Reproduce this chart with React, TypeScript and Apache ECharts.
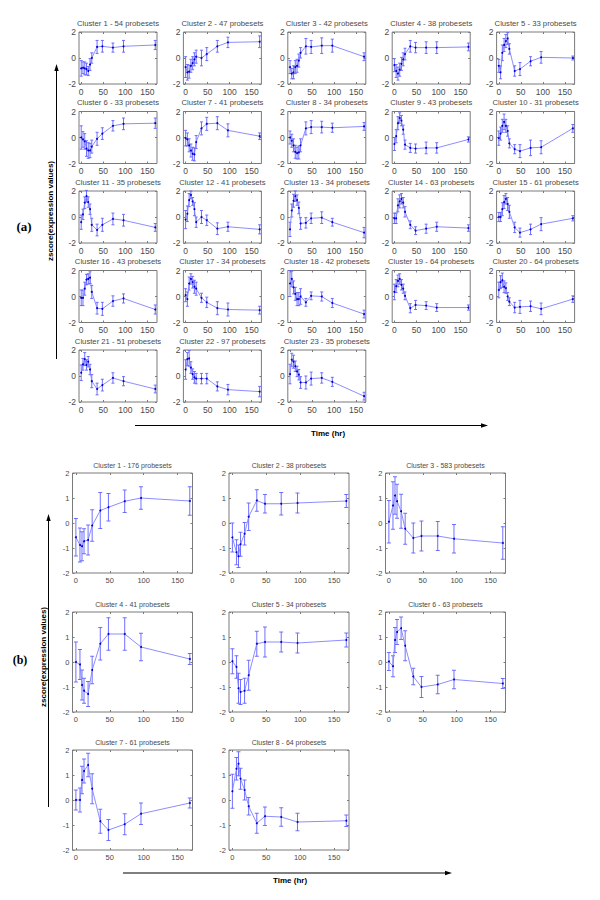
import React, { useEffect, useRef } from "react";
import * as echarts from "echarts";

// ---------- data ----------
const TIMES_A = [0, 4, 8, 12, 16, 20, 24, 36, 48, 72, 96, 168];
const TIMES_B = [0, 6, 9, 12, 18, 24, 36, 48, 72, 96, 168];
const X_TICKS = [0, 50, 100, 150];

const TITLES_A = [
  "Cluster 1 - 54 probesets", "Cluster 2 - 47 probesets", "Cluster 3 - 42 probesets",
  "Cluster 4 - 38 probesets", "Cluster 5 - 33 probesets", "Cluster 6 - 33 probesets",
  "Cluster 7 - 41 probesets", "Cluster 8 - 34 probesets", "Cluster 9 - 43 probesets",
  "Cluster 10 - 31 probesets", "Cluster 11 - 35 probesets", "Cluster 12 - 41 probesets",
  "Cluster 13 - 34 probesets", "Cluster 14 - 63 probesets", "Cluster 15 - 61 probesets",
  "Cluster 16 - 43 probesets", "Cluster 17 - 34 probesets", "Cluster 18 - 42 probesets",
  "Cluster 19 - 64 probesets", "Cluster 20 - 64 probesets", "Cluster 21 - 51 probesets",
  "Cluster 22 - 97 probesets", "Cluster 23 - 35 probesets",
];
const TITLES_B = [
  "Cluster 1 - 176 probesets", "Cluster 2 - 38 probesets", "Cluster 3 - 583 probesets",
  "Cluster 4 - 41 probesets", "Cluster 5 - 34 probesets", "Cluster 6 - 63 probesets",
  "Cluster 7 - 61 probesets", "Cluster 8 - 64 probesets",
];

// panel (a) means and error half-widths
const A01 = [-0.8, -0.75, -0.8, -0.85, -1.0, -0.5, 0.0, 0.85, 0.9, 0.8, 0.9, 1.0];
const A01_E = [0.6, 0.45, 0.5, 0.45, 0.35, 0.45, 0.4, 0.5, 0.45, 0.35, 0.45, 0.35];
const A02 = [-0.7, -1.1, -1.05, -0.6, -0.4, -0.1, 0.1, 0.0, 0.3, 0.9, 1.2, 1.25];
const A02_E = [0.8, 0.6, 0.5, 0.5, 0.5, 0.5, 0.5, 0.6, 0.5, 0.45, 0.4, 0.45];
const A03 = [-0.7, -1.2, -1.1, -0.7, -0.6, -0.2, 0.4, 0.9, 0.85, 0.95, 0.95, 0.1];
const A03_E = [0.5, 0.4, 0.5, 0.5, 0.5, 0.5, 0.4, 0.6, 0.5, 0.6, 0.5, 0.3];
const A04 = [-0.55, -1.0, -1.2, -0.9, -0.45, -0.1, 0.3, 0.9, 0.8, 0.8, 0.8, 0.85];
const A04_E = [0.5, 0.5, 0.5, 0.5, 0.5, 0.5, 0.45, 0.45, 0.4, 0.45, 0.45, 0.3];
const A05 = [-0.6, -1.1, 0.4, 1.0, 1.3, 1.5, 0.7, -1.0, -0.85, -0.25, 0.05, 0.0];
const A05_E = [0.5, 0.5, 0.6, 0.5, 0.5, 0.45, 0.4, 0.4, 0.5, 0.35, 0.45, 0.15];
const A06 = [0.0, -0.15, -0.3, -0.85, -1.0, -1.0, -0.7, -0.1, 0.3, 0.9, 1.05, 1.1];
const A06_E = [0.9, 0.6, 0.6, 0.6, 0.6, 0.55, 0.5, 0.5, 0.45, 0.4, 0.45, 0.4];
const A07 = [-0.05, -0.15, -0.6, -1.0, -1.25, -1.3, -0.35, 0.7, 1.05, 1.1, 0.55, 0.1];
const A07_E = [0.6, 0.5, 0.5, 0.5, 0.5, 0.5, 0.5, 0.5, 0.5, 0.5, 0.5, 0.25];
const A08 = [0.0, -0.25, -0.6, -1.1, -1.2, -1.15, -0.6, 0.7, 0.8, 0.8, 0.75, 0.85];
const A08_E = [0.5, 0.5, 0.5, 0.5, 0.45, 0.5, 0.5, 0.5, 0.5, 0.45, 0.35, 0.3];
const A09 = [-0.5, 0.1, 1.1, 1.5, 1.3, 0.6, -0.55, -0.8, -0.85, -0.8, -0.8, -0.15];
const A09_E = [0.5, 0.5, 0.5, 0.4, 0.4, 0.35, 0.35, 0.35, 0.35, 0.45, 0.4, 0.2];
const A10 = [-0.05, 0.3, 0.9, 1.2, 0.9, 0.5, -0.45, -0.9, -1.05, -0.8, -0.75, 0.7];
const A10_E = [0.55, 0.5, 0.5, 0.6, 0.5, 0.4, 0.35, 0.35, 0.5, 0.6, 0.5, 0.3];
const A11 = [-0.4, 0.2, 1.1, 1.6, 1.15, 0.6, -0.6, -1.0, -0.6, -0.15, -0.25, -0.8];
const A11_E = [0.55, 0.4, 0.45, 0.45, 0.4, 0.4, 0.5, 0.45, 0.5, 0.45, 0.45, 0.3];
const A12 = [-0.2, 0.25, 1.3, 1.7, 1.2, 0.6, -0.4, 0.0, -0.25, -0.9, -0.75, -0.95];
const A12_E = [0.7, 0.6, 0.5, 0.3, 0.3, 0.5, 0.4, 0.5, 0.4, 0.45, 0.35, 0.35];
const A13 = [-0.95, 0.5, 1.25, 1.6, 1.3, 0.7, -0.5, -0.45, -0.1, -0.05, -0.4, -1.2];
const A13_E = [0.55, 0.5, 0.5, 0.4, 0.4, 0.45, 0.45, 0.4, 0.4, 0.45, 0.3, 0.4];
const A14 = [-0.1, -0.1, 0.9, 1.2, 1.4, 1.1, 0.4, -0.6, -1.05, -0.9, -0.75, -0.85];
const A14_E = [0.4, 0.4, 0.5, 0.5, 0.4, 0.4, 0.4, 0.3, 0.3, 0.35, 0.35, 0.25];
const A15 = [0.0, 0.0, 0.6, 1.15, 1.4, 1.0, 0.4, -0.8, -1.2, -0.95, -0.55, -0.1];
const A15_E = [0.35, 0.35, 0.5, 0.5, 0.4, 0.5, 0.5, 0.4, 0.35, 0.4, 0.5, 0.2];
const A16 = [-0.1, -0.1, 0.6, 1.3, 1.35, 1.45, 0.35, -0.9, -0.95, -0.35, -0.15, -1.0];
const A16_E = [0.6, 0.6, 0.5, 0.4, 0.4, 0.45, 0.5, 0.45, 0.5, 0.4, 0.35, 0.35];
const A17 = [0.1, -0.2, 1.0, 1.35, 1.1, 0.75, 0.6, -0.1, -0.45, -0.9, -1.0, -1.05];
const A17_E = [0.5, 0.55, 0.5, 0.4, 0.45, 0.5, 0.5, 0.35, 0.4, 0.5, 0.5, 0.3];
const A18 = [1.0, 1.35, 0.7, 0.2, -0.2, -0.2, 0.0, -0.45, 0.05, 0.0, -0.5, -1.35];
const A18_E = [1.0, 0.6, 0.5, 0.5, 0.5, 0.5, 0.6, 0.3, 0.3, 0.35, 0.35, 0.3];
const A19 = [0.35, 0.8, 1.2, 1.35, 0.9, 0.6, 0.05, -0.9, -0.65, -0.7, -0.85, -0.85];
const A19_E = [0.6, 0.5, 0.45, 0.4, 0.4, 0.35, 0.3, 0.35, 0.35, 0.3, 0.3, 0.2];
const A20 = [0.5, 1.1, 1.25, 0.75, 0.65, 0.0, -0.4, -0.85, -0.8, -0.75, -0.95, -0.2];
const A20_E = [0.6, 0.5, 0.55, 0.45, 0.4, 0.3, 0.3, 0.4, 0.5, 0.4, 0.45, 0.25];
const A21 = [0.25, 0.9, 1.3, 0.85, 1.1, 0.5, -0.4, -1.0, -0.7, -0.15, -0.4, -1.0];
const A21_E = [0.6, 0.45, 0.5, 0.4, 0.4, 0.4, 0.5, 0.45, 0.45, 0.4, 0.35, 0.3];
const A22 = [0.5, 1.3, 1.35, 0.65, 0.15, -0.1, -0.2, -0.2, -0.2, -0.8, -1.05, -1.2];
const A22_E = [0.75, 0.5, 0.6, 0.45, 0.4, 0.45, 0.4, 0.4, 0.4, 0.35, 0.4, 0.4];
const A23 = [0.15, 1.25, 1.1, 0.75, 0.35, 0.1, -0.5, -0.5, -0.2, -0.15, -0.45, -1.55];
const A23_E = [0.75, 0.5, 0.5, 0.4, 0.4, 0.4, 0.45, 0.5, 0.5, 0.4, 0.35, 0.3];

// panel (b)
const B1 = [-0.57, -0.88, -0.93, -0.73, -0.68, -0.1, 0.5, 0.63, 0.87, 1.0, 0.88];
const B1_E = [0.75, 0.68, 0.58, 0.5, 0.6, 0.63, 0.72, 0.55, 0.45, 0.45, 0.57];
const B2 = [-0.58, -1.17, -1.33, -0.85, -0.43, 0.25, 0.9, 0.77, 0.77, 0.8, 0.88];
const B2_E = [0.58, 0.5, 0.45, 0.48, 0.45, 0.55, 0.43, 0.37, 0.45, 0.4, 0.26];
const B3 = [0.05, 0.7, 1.1, 0.87, 0.47, -0.23, -0.6, -0.52, -0.52, -0.63, -0.8];
const B3_E = [0.85, 0.95, 0.75, 0.68, 0.68, 0.62, 0.6, 0.6, 0.58, 0.57, 0.65];
const B4 = [0.0, -0.1, -0.92, -1.15, -1.28, -0.32, 0.73, 1.12, 1.12, 0.6, 0.12];
const B4_E = [0.8, 0.6, 0.6, 0.5, 0.5, 0.55, 0.65, 0.65, 0.65, 0.55, 0.22];
const B5 = [0.03, -0.2, -1.05, -1.2, -1.15, -0.53, 0.73, 0.8, 0.8, 0.76, 0.88];
const B5_E = [0.5, 0.45, 0.6, 0.5, 0.5, 0.6, 0.5, 0.6, 0.4, 0.4, 0.28];
const B6 = [0.02, -0.17, 0.88, 1.2, 1.35, 0.65, -0.58, -1.0, -0.9, -0.7, -0.86];
const B6_E = [0.36, 0.42, 0.5, 0.5, 0.45, 0.6, 0.33, 0.42, 0.37, 0.37, 0.2];
const B7 = [0.0, 0.0, 0.8, 1.16, 1.4, 0.45, -0.85, -1.2, -0.97, -0.55, -0.12];
const B7_E = [0.4, 0.48, 0.55, 0.48, 0.47, 0.6, 0.48, 0.42, 0.42, 0.43, 0.2];
const B8 = [0.35, 1.25, 1.45, 0.85, 0.4, -0.25, -0.93, -0.65, -0.68, -0.88, -0.83];
const B8_E = [0.68, 0.45, 0.48, 0.42, 0.4, 0.35, 0.4, 0.37, 0.37, 0.35, 0.23];

const MEANS_A = [A01, A02, A03, A04, A05, A06, A07, A08, A09, A10, A11, A12, A13, A14, A15, A16, A17, A18, A19, A20, A21, A22, A23];
const ERRS_A = [A01_E, A02_E, A03_E, A04_E, A05_E, A06_E, A07_E, A08_E, A09_E, A10_E, A11_E, A12_E, A13_E, A14_E, A15_E, A16_E, A17_E, A18_E, A19_E, A20_E, A21_E, A22_E, A23_E];
const MEANS_B = [B1, B2, B3, B4, B5, B6, B7, B8];
const ERRS_B = [B1_E, B2_E, B3_E, B4_E, B5_E, B6_E, B7_E, B8_E];

// ---------- styling ----------
const FONT = "'Liberation Sans', Arial, sans-serif";
const SERIF = "'Liberation Serif', 'Times New Roman', serif";
const FRAME = "#7a7a7a";
const TXT = "#4a4a4a";
const LINE_C = "#8080ff";
const ERR_C = "#6060ff";
const DOT_C = "#0000c8";

type Panel = {
  left: number; top: number; w: number; h: number;
  title: string; times: number[]; vals: number[]; errs: number[];
  yInterval: number; tickFont: number; titleFont: number; cap: number; titleGap: number;
};

function buildPanels(): Panel[] {
  const out: Panel[] = [];
  MEANS_A.forEach((vals, k) => {
    const i = k % 5, j = Math.floor(k / 5);
    out.push({
      left: 79 + i * 104.4, top: 32 + j * 79.5, w: 78, h: 52,
      title: TITLES_A[k], times: TIMES_A, vals, errs: ERRS_A[k],
      yInterval: 2, tickFont: 8.5, titleFont: 7.7, cap: 1.5, titleGap: 9,
    });
  });
  const bl = [72.5, 229, 385.5];
  const bt = [473, 612, 750];
  MEANS_B.forEach((vals, k) => {
    out.push({
      left: bl[k % 3], top: bt[Math.floor(k / 3)], w: 120, h: 100,
      title: TITLES_B[k], times: TIMES_B, vals, errs: ERRS_B[k],
      yInterval: 1, tickFont: 7.5, titleFont: 7, cap: 2, titleGap: 8,
    });
  });
  return out;
}

function buildOption() {
  const panels = buildPanels();
  const grid: any[] = [];
  const xAxis: any[] = [];
  const yAxis: any[] = [];
  const series: any[] = [];
  const graphic: any[] = [];

  panels.forEach((p, g) => {
    grid.push({
      left: p.left, top: p.top, width: p.w, height: p.h,
      show: true, borderColor: FRAME, borderWidth: 1, backgroundColor: "transparent",
    });
    const tick = { show: true, inside: true, length: 2, lineStyle: { color: FRAME, width: 1 } };
    const lab = { fontSize: p.tickFont, color: TXT, fontFamily: FONT, margin: 3 };
    const noLine = { show: false, onZero: false };
    xAxis.push({
      gridIndex: g, type: "value", min: -5, max: 172, position: "bottom",
      axisLine: noLine, splitLine: { show: false },
      axisTick: { ...tick, customValues: X_TICKS },
      axisLabel: { ...lab, customValues: X_TICKS },
    });
    xAxis.push({
      gridIndex: g, type: "value", min: -5, max: 172, position: "top",
      axisLine: noLine, splitLine: { show: false },
      axisTick: { ...tick, customValues: X_TICKS },
      axisLabel: { show: false, customValues: X_TICKS },
    });
    yAxis.push({
      gridIndex: g, type: "value", min: -2, max: 2, interval: p.yInterval, position: "left",
      axisLine: noLine, splitLine: { show: false },
      axisTick: tick, axisLabel: lab,
    });
    yAxis.push({
      gridIndex: g, type: "value", min: -2, max: 2, interval: p.yInterval, position: "right",
      axisLine: noLine, splitLine: { show: false },
      axisTick: tick, axisLabel: { show: false },
    });
    const cap = p.cap;
    series.push({
      type: "custom", xAxisIndex: 2 * g, yAxisIndex: 2 * g, silent: true, z: 2,
      data: p.times.map((t, i) => [t, p.vals[i], p.errs[i]]),
      renderItem: (_params: any, api: any) => {
        const x = api.value(0), y = api.value(1), e = api.value(2);
        const a = api.coord([x, y + e]);
        const b = api.coord([x, y - e]);
        const st = { stroke: ERR_C, lineWidth: 0.9 };
        return {
          type: "group",
          children: [
            { type: "line", shape: { x1: a[0], y1: a[1], x2: b[0], y2: b[1] }, style: st },
            { type: "line", shape: { x1: a[0] - cap, y1: a[1], x2: a[0] + cap, y2: a[1] }, style: st },
            { type: "line", shape: { x1: b[0] - cap, y1: b[1], x2: b[0] + cap, y2: b[1] }, style: st },
          ],
        };
      },
    });
    series.push({
      type: "line", xAxisIndex: 2 * g, yAxisIndex: 2 * g, silent: true, z: 3,
      data: p.times.map((t, i) => [t, p.vals[i]]),
      symbol: "circle", symbolSize: 2, showSymbol: true,
      itemStyle: { color: DOT_C }, lineStyle: { color: LINE_C, width: 0.9 },
    });
    graphic.push({
      type: "text", x: p.left + p.w / 2, y: p.top - p.titleGap, silent: true,
      style: { text: p.title, fill: TXT, font: `${p.titleFont}px ${FONT}`, align: "center", verticalAlign: "middle" },
    });
  });

  const bold = (s: number) => `bold ${s}px ${FONT}`;
  const ARROW = "#000000";
  // panel (a) decorations
  graphic.push(
    { type: "text", x: 24, y: 226, style: { text: "(a)", fill: "#000", font: `bold 13px ${SERIF}`, align: "center", verticalAlign: "middle" } },
    { type: "text", x: 50, y: 211, rotation: Math.PI / 2, style: { text: "zscore(expression values)", fill: "#000", font: bold(8), align: "center", verticalAlign: "middle" } },
    { type: "line", shape: { x1: 56.5, y1: 359, x2: 56.5, y2: 70 }, style: { stroke: ARROW, lineWidth: 1 } },
    { type: "polygon", shape: { points: [[56.5, 64], [54.3, 71], [58.7, 71]] }, style: { fill: ARROW } },
    { type: "line", shape: { x1: 135, y1: 425.5, x2: 482, y2: 425.5 }, style: { stroke: ARROW, lineWidth: 1 } },
    { type: "polygon", shape: { points: [[488, 425.5], [481, 423.3], [481, 427.7]] }, style: { fill: ARROW } },
    { type: "text", x: 328, y: 433, style: { text: "Time (hr)", fill: "#000", font: bold(8), align: "center", verticalAlign: "middle" } },
  );
  // panel (b) decorations
  graphic.push(
    { type: "text", x: 20, y: 660, style: { text: "(b)", fill: "#000", font: `bold 12px ${SERIF}`, align: "center", verticalAlign: "middle" } },
    { type: "text", x: 43, y: 657, rotation: Math.PI / 2, style: { text: "zscore(expression values)", fill: "#000", font: bold(8), align: "center", verticalAlign: "middle" } },
    { type: "line", shape: { x1: 48.5, y1: 807, x2: 48.5, y2: 520 }, style: { stroke: ARROW, lineWidth: 1 } },
    { type: "polygon", shape: { points: [[48.5, 514], [46.3, 521], [50.7, 521]] }, style: { fill: ARROW } },
    { type: "line", shape: { x1: 123, y1: 873, x2: 446, y2: 873 }, style: { stroke: ARROW, lineWidth: 1 } },
    { type: "polygon", shape: { points: [[452, 873], [445, 870.8], [445, 875.2]] }, style: { fill: ARROW } },
    { type: "text", x: 290, y: 880, style: { text: "Time (hr)", fill: "#000", font: bold(8), align: "center", verticalAlign: "middle" } },
  );

  return {
    animation: false,
    backgroundColor: "#ffffff",
    grid, xAxis, yAxis, series, graphic,
  };
}

export default function App() {
  const ref = useRef<HTMLDivElement>(null);
  useEffect(() => {
    if (!ref.current) return;
    const chart = echarts.init(ref.current, undefined, { renderer: "svg" });
    chart.setOption(buildOption() as any);
    return () => chart.dispose();
  }, []);
  return (
    <div
      ref={ref}
      style={{ position: "absolute", left: 0, top: 0, width: 600, height: 900, background: "#fff" }}
    />
  );
}
